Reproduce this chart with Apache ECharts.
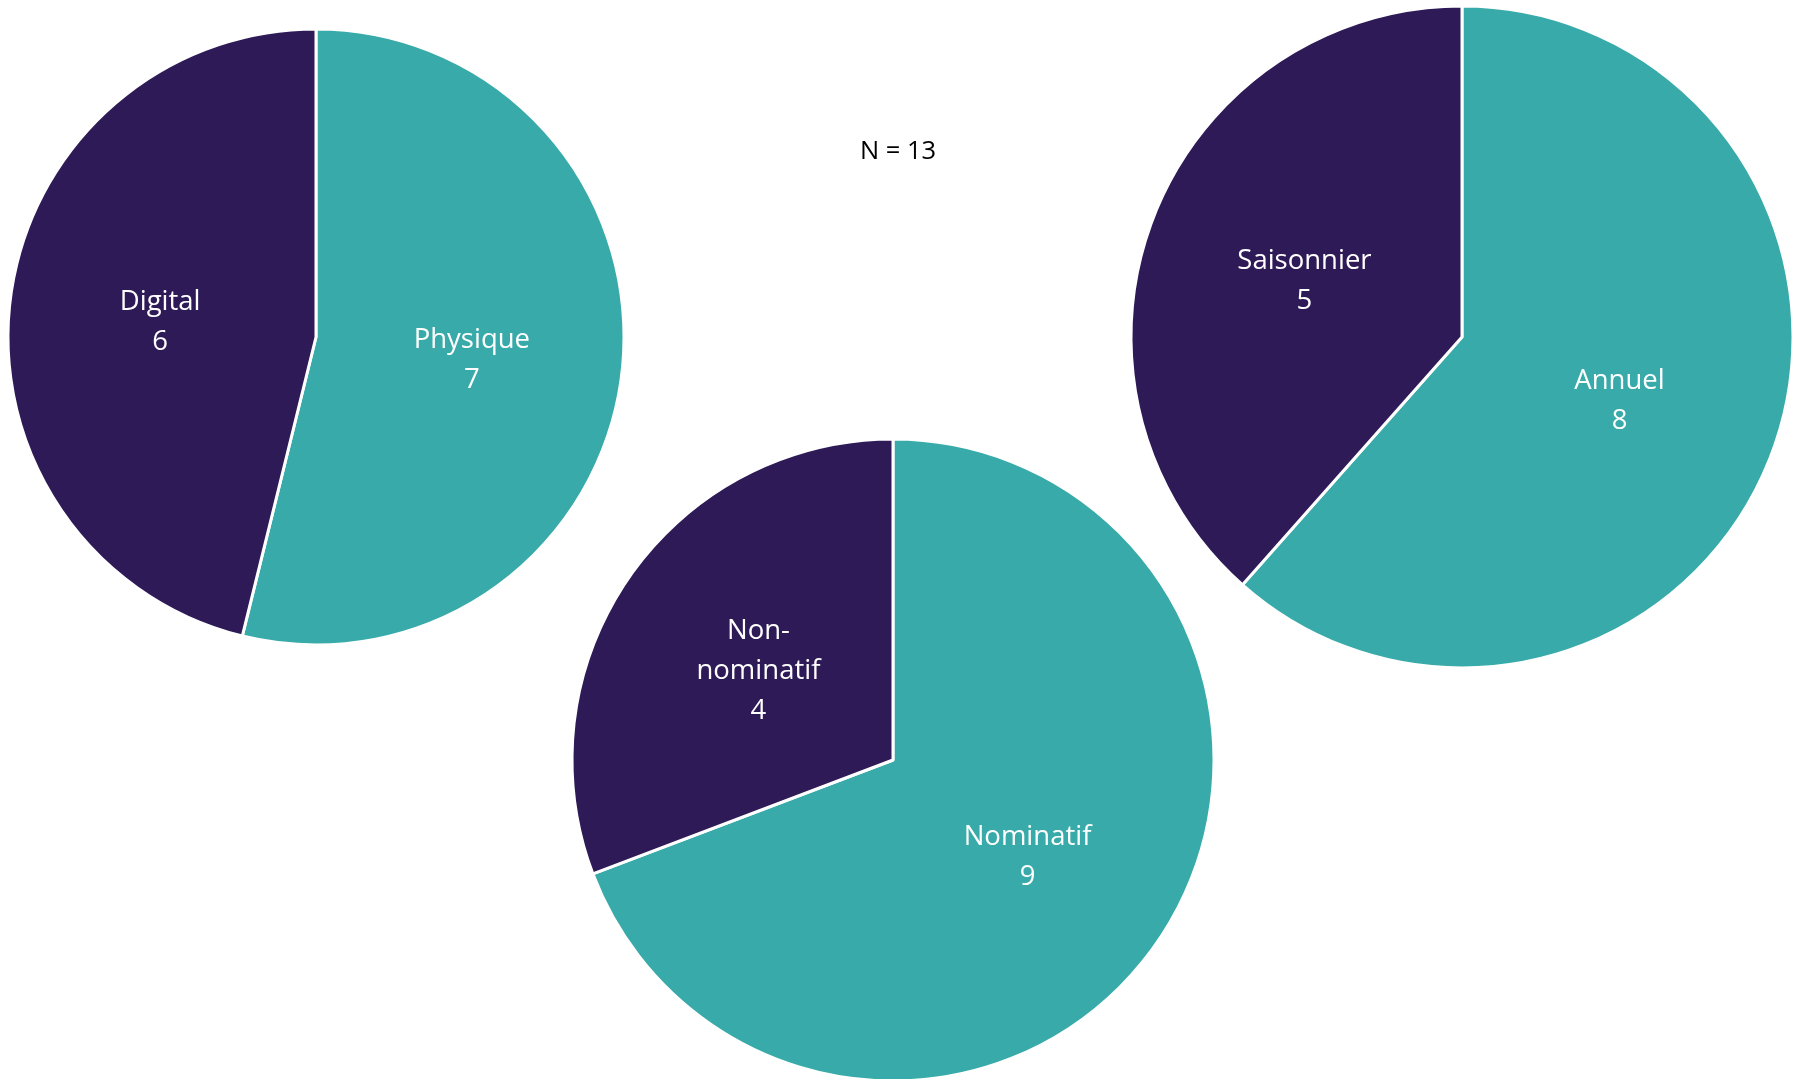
<!DOCTYPE html>
<html>
<head>
<meta charset="utf-8">
<script src="https://cdn.jsdelivr.net/npm/echarts@6/dist/echarts.min.js"></script>
<style>
  html, body { margin: 0; padding: 0; background: #ffffff; }
  #chart { width: 1798px; height: 1079px; }
</style>
</head>
<body>
<div id="chart"></div>
<script>
// Data
const pie1Names = ['Physique', 'Digital'];
const pie1Values = [7, 6];
const pie2Names = ['Nominatif', 'Non-nominatif'];
const pie2Values = [9, 4];
const pie3Names = ['Annuel', 'Saisonnier'];
const pie3Values = [8, 5];
const totalText = 'N = 13';

const teal = '#37AAA9';
const purple = '#2E1A56';
const fontFamily = '"Open Sans", sans-serif';

function makePie(names, values, center, radius) {
  return {
    type: 'pie',
    center: center,
    radius: radius,
    startAngle: 90,
    clockwise: true,
    animation: false,
    silent: true,
    data: names.map((n, i) => ({
      name: n,
      value: values[i],
      itemStyle: { color: i === 0 ? teal : purple }
    })),
    itemStyle: { borderColor: '#ffffff', borderWidth: 3 },
    label: {
      show: true,
      position: 'inside',
      color: '#ffffff',
      fontFamily: fontFamily,
      fontSize: 27.5,
      lineHeight: 40,
      align: 'center',
      offset: [0, 4],
      formatter: p => p.name.replace('-', '-\n') + '\n' + p.value
    },
    labelLine: { show: false }
  };
}

const chart = echarts.init(document.getElementById('chart'), null, { renderer: 'canvas' });
chart.setOption({
  backgroundColor: '#ffffff',
  animation: false,
  title: {
    text: totalText,
    left: 893,
    top: 134,
    textAlign: 'center',
    textStyle: { fontFamily: fontFamily, fontSize: 25.5, fontWeight: 'normal', color: '#000000' }
  },
  series: [
    makePie(pie1Names, pie1Values, [316, 337], 308),
    makePie(pie2Names, pie2Values, [893, 760], 321),
    makePie(pie3Names, pie3Values, [1462, 337], 331)
  ]
});
</script>
</body>
</html>
